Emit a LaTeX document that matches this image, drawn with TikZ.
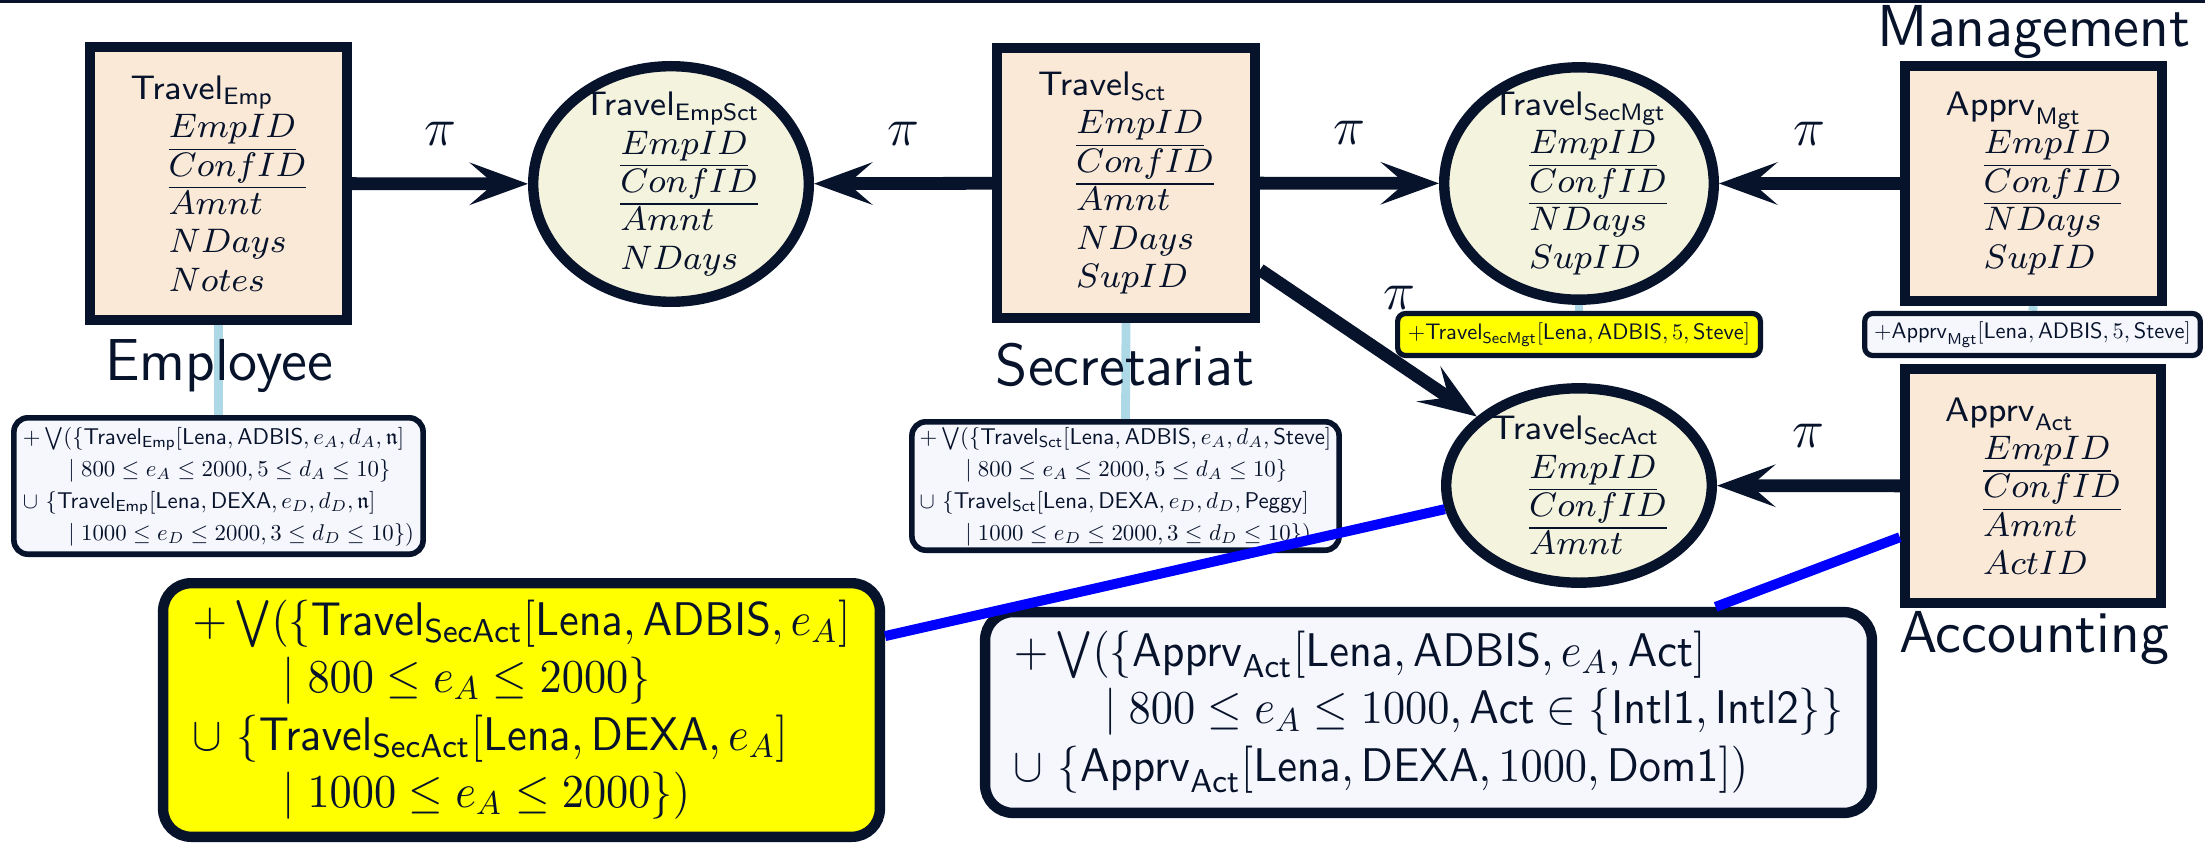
\RequirePackage{fix-cm}
\documentclass[tikz,border=0pt]{standalone}
\usepackage{graphicx}
\usepackage{amsmath,amssymb}
\usetikzlibrary{shapes.geometric,arrows.meta,calc}
\pgfdeclarelayer{background}
\pgfsetlayers{background,main}
\definecolor{navy}{HTML}{07122B}
\definecolor{peach}{HTML}{FAE9D6}
\definecolor{cream}{HTML}{F4F3DD}
\definecolor{paper}{HTML}{F6F7FD}
\definecolor{hiyellow}{HTML}{FFFF00}
\definecolor{linkblue}{HTML}{0000FF}
\definecolor{lightlink}{HTML}{ADD8E6}
\newcommand{\sfm}[1]{\mathsf{#1}}
\newcommand{\attrind}{\hspace*{9.5pt}}
\newcommand{\smallstack}[1]{\scalebox{0.57}{\fontsize{10}{14}\selectfont\begin{tabular}{@{}l@{}}#1\end{tabular}}}
\newcommand{\bigstack}[1]{\scalebox{0.94}[1]{\fontsize{11.8}{14.3}\selectfont\begin{tabular}{@{}l@{}}#1\end{tabular}}}
\newcommand{\tagtext}[1]{\scalebox{0.56}{\fontsize{10}{12}\selectfont #1}}
\tikzset{
 relbox/.style={rectangle, draw=navy, line width=2.6pt, fill=peach, inner sep=0pt, align=left, text=navy, font=\fontsize{8.5}{9.6}\selectfont},
 viewell/.style={ellipse, draw=navy, line width=2.6pt, fill=cream, inner sep=0pt},
 attrtext/.style={inner sep=0pt, align=left, text=navy, font=\fontsize{8.5}{9.6}\selectfont},
 smallf/.style={rectangle, rounded corners=3.5pt, draw=navy, line width=1.4pt, fill=paper, inner sep=0pt, text=navy},
 tagbox/.style={rectangle, rounded corners=2pt, draw=navy, line width=1.3pt, inner sep=0pt, text=navy},
 bigf/.style={rectangle, rounded corners=7pt, draw=navy, line width=2.6pt, inner sep=0pt, text=navy},
 lbl/.style={text=navy, font=\sffamily\fontsize{14.8}{17}\selectfont, inner sep=0pt},
 pilbl/.style={text=navy, font=\fontsize{13.5}{16}\selectfont, inner sep=0pt},
 flow/.style={draw=navy, line width=3.2pt, -{Stealth[length=14.5pt, width=10.5pt, inset=6pt]}},
 bluelink/.style={draw=linkblue, line width=2.5pt},
 softlink/.style={draw=lightlink, line width=2.2pt},
}
\begin{document}
\begin{tikzpicture}[x=0.25pt,y=-0.25pt]
\useasboundingbox (0,0) rectangle (2205,845);
\fill[navy] (0,0) rectangle (2205,3);

% relations (rectangles)
\node[relbox, minimum width=64.2pt, minimum height=68.2pt] (emp) at (218.5,183.5)
 {$\sfm{Travel}_{\sfm{Emp}}$\\ \attrind$\underline{EmpID}$\\ \attrind$\underline{ConfID}$\\ \attrind$Amnt$\\ \attrind$NDays$\\ \attrind$Notes$};
\node[relbox, minimum width=64.4pt, minimum height=67.4pt] (sct) at (1126,183)
 {$\sfm{Travel}_{\sfm{Sct}}$\\ \attrind$\underline{EmpID}$\\ \attrind$\underline{ConfID}$\\ \attrind$Amnt$\\ \attrind$NDays$\\ \attrind$SupID$};
\node[relbox, minimum width=64.2pt, minimum height=58.6pt] (mgt) at (2033.5,183.5)
 {$\sfm{Apprv}_{\sfm{Mgt}}$\\ \attrind$\underline{EmpID}$\\ \attrind$\underline{ConfID}$\\ \attrind$NDays$\\ \attrind$SupID$};
\node[relbox, minimum width=64pt, minimum height=58.4pt] (act) at (2033,486)
 {$\sfm{Apprv}_{\sfm{Act}}$\\ \attrind$\underline{EmpID}$\\ \attrind$\underline{ConfID}$\\ \attrind$Amnt$\\ \attrind$ActID$};

% views (ellipses)
\node[viewell, minimum width=68.9pt, minimum height=58.9pt] (empsct) at (671,184) {};
\node[attrtext] (empsctT) at (empsct) {$\sfm{Travel}_{\sfm{EmpSct}}$\\ \attrind$\underline{EmpID}$\\ \attrind$\underline{ConfID}$\\ \attrind$Amnt$\\ \attrind$NDays$};
\node[viewell, minimum width=67.4pt, minimum height=58.1pt] (secmgt) at (1579,183.5) {};
\node[attrtext] (secmgtT) at (secmgt) {$\sfm{Travel}_{\sfm{SecMgt}}$\\ \attrind$\underline{EmpID}$\\ \attrind$\underline{ConfID}$\\ \attrind$NDays$\\ \attrind$SupID$};
\node[viewell, minimum width=66.4pt, minimum height=48.6pt] (secact) at (1579,485.5) {};
\node[attrtext] (secactT) at (secact) {$\sfm{Travel}_{\sfm{SecAct}}$\\ \attrind$\underline{EmpID}$\\ \attrind$\underline{ConfID}$\\ \attrind$Amnt$};

% labels
\node[lbl, anchor=base] (lemp) at (219,380) {Employee};
\node[lbl, anchor=base] (lsct) at (1125,385) {Secretariat};
\node[lbl, anchor=base] (lmgt) at (2034,47) {Management};
\node[lbl, anchor=base] (lact) at (2034,652) {Accounting};

% small formula boxes
\node[smallf, minimum width=102.3pt, minimum height=34.1pt] (empf) at (218.5,486)
 {\smallstack{$+\bigvee(\{\sfm{Travel}_{\sfm{Emp}}[\sfm{Lena},\sfm{ADBIS},e_A,d_A,\mathfrak{n}]$\\
  \hspace*{20pt}$\mid 800\leq e_A\leq 2000,5\leq d_A\leq 10\}$\\
  $\cup\ \{\sfm{Travel}_{\sfm{Emp}}[\sfm{Lena},\sfm{DEXA},e_D,d_D,\mathfrak{n}]$\\
  \hspace*{20pt}$\mid 1000\leq e_D\leq 2000,3\leq d_D\leq 10\})$}};
\node[smallf, minimum width=106.8pt, minimum height=32.1pt] (sctf) at (1125.5,486)
 {\smallstack{$+\bigvee(\{\sfm{Travel}_{\sfm{Sct}}[\sfm{Lena},\sfm{ADBIS},e_A,d_A,\sfm{Steve}]$\\
  \hspace*{20pt}$\mid 800\leq e_A\leq 2000,5\leq d_A\leq 10\}$\\
  $\cup\ \{\sfm{Travel}_{\sfm{Sct}}[\sfm{Lena},\sfm{DEXA},e_D,d_D,\sfm{Peggy}]$\\
  \hspace*{20pt}$\mid 1000\leq e_D\leq 2000,3\leq d_D\leq 10\})$}};

% tag boxes
\node[tagbox, fill=hiyellow, minimum width=90.7pt, minimum height=10.5pt] (ysmall) at (1579,334.5)
 {\tagtext{$+\sfm{Travel}_{\sfm{SecMgt}}[\sfm{Lena},\sfm{ADBIS},5,\sfm{Steve}]$}};
\node[tagbox, fill=paper, minimum width=83.9pt, minimum height=10.5pt] (wsmall) at (2032.5,334.5)
 {\tagtext{$+\sfm{Apprv}_{\sfm{Mgt}}[\sfm{Lena},\sfm{ADBIS},5,\sfm{Steve}]$}};

% big formula boxes
\node[bigf, fill=hiyellow, minimum width=179.2pt, minimum height=63.4pt] (yf) at (521.5,710)
 {\bigstack{$+\bigvee(\{\sfm{Travel}_{\sfm{SecAct}}[\sfm{Lena},\sfm{ADBIS},e_A]$\\
  \hspace*{24pt}$\mid 800\leq e_A\leq 2000\}$\\
  $\cup\ \{\sfm{Travel}_{\sfm{SecAct}}[\sfm{Lena},\sfm{DEXA},e_A]$\\
  \hspace*{24pt}$\mid 1000\leq e_A\leq 2000\})$}};
\node[bigf, fill=paper, minimum width=221.7pt, minimum height=50.2pt] (wf) at (1428.5,712.5)
 {\bigstack{$+\bigvee(\{\sfm{Apprv}_{\sfm{Act}}[\sfm{Lena},\sfm{ADBIS},e_A,\sfm{Act}]$\\
  \hspace*{24pt}$\mid 800\leq e_A\leq 1000,\sfm{Act}\in\{\sfm{Intl1},\sfm{Intl2}\}\}$\\
  $\cup\ \{\sfm{Apprv}_{\sfm{Act}}[\sfm{Lena},\sfm{DEXA},1000,\sfm{Dom1}])$}};

% light blue attachments
\begin{pgfonlayer}{background}
\draw[softlink] (emp.south) -- (empf.north);
\draw[softlink] (sct.south) -- (sctf.north);
\draw[softlink] (secmgt.south) -- (ysmall.north);
\draw[softlink] (mgt.south) -- (wsmall.north);
\end{pgfonlayer}

% projections
\draw[flow] (emp) -- node[pilbl, yshift=12.5pt] (pi1) {$\pi$} (empsct);
\draw[flow] (sct) -- node[pilbl, yshift=12.5pt] (pi2) {$\pi$} (empsct);
\draw[flow] (sct) -- node[pilbl, yshift=12.5pt] (pi3) {$\pi$} (secmgt);
\draw[flow] (mgt) -- node[pilbl, yshift=12.5pt] (pi4) {$\pi$} (secmgt);
\draw[flow] (act) -- node[pilbl, yshift=12.5pt] (pi5) {$\pi$} (secact);
\coordinate (diagstart) at ($(sct.south east)!0.19!(sct.north east)$);
\draw[flow] (diagstart) -- (secact.146);
\node[pilbl] (pi6) at (1399,298) {$\pi$};

% blue links
\coordinate (yfout) at ($(yf.north east)!0.22!(yf.south east)$);
\draw[bluelink] (yfout) -- (secact.190);
\coordinate (wfout) at ($(wf.north west)!0.82!(wf.north east)$);
\coordinate (actin) at ($(act.north west)!0.71!(act.south west)$);
\draw[bluelink] (wfout) -- (actin);
\end{tikzpicture}
\end{document}
